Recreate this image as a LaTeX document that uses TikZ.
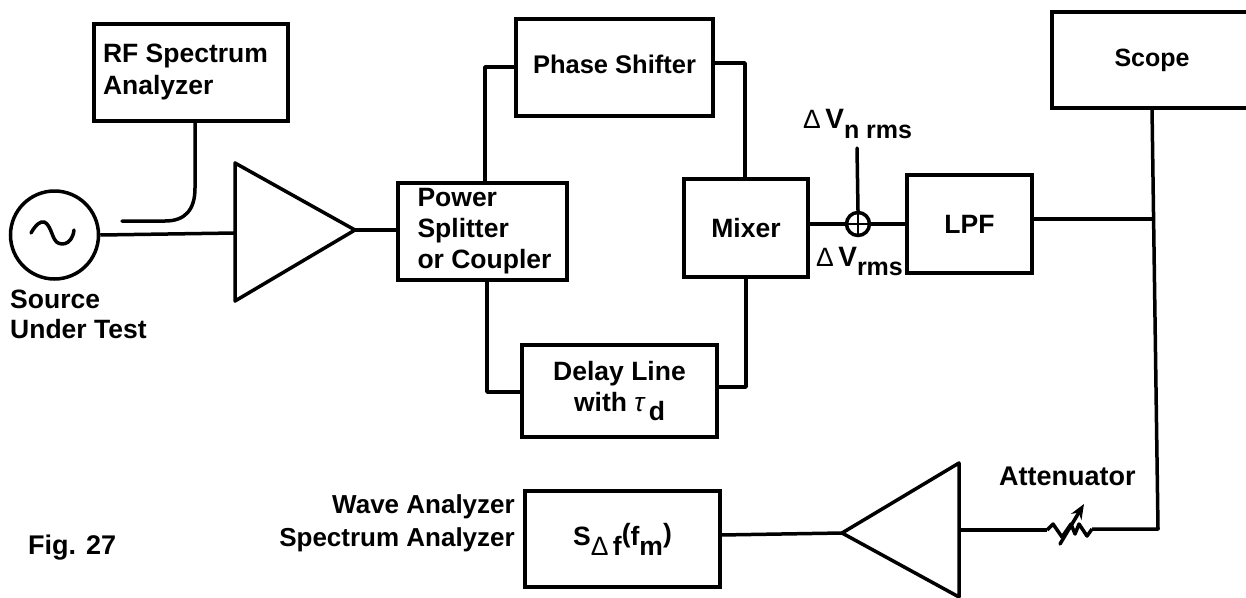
\documentclass[tikz,border=0pt]{standalone}
\usepackage{fontspec}
\setmainfont{Liberation Sans}
\usetikzlibrary{arrows.meta}
\newcommand{\fsz}[2]{\fontsize{#1}{#2}\selectfont\bfseries}
\tikzset{
  bx/.style={draw,line width=3.5pt,align=center,inner sep=0pt,font=\fsz{26.5}{31}},
  lbl/.style={inner sep=0pt,font=\fsz{26.5}{31}},
  wire/.style={line width=3.5pt,line join=round}
}
\begin{document}
\begin{tikzpicture}[x=1pt,y=-1pt]
\useasboundingbox (0,0) rectangle (1246,597);
% boxes
\node[bx,minimum width=194pt,minimum height=97pt] (rf) at (191,72.5) {\hspace*{-11pt}\raisebox{-3pt}{\begin{tabular}{@{}l@{}}RF Spectrum\\[1pt]Analyzer\end{tabular}}};
\node[bx,minimum width=169pt,minimum height=97pt] (split) at (482.5,231.5) {\hspace*{4pt}\raisebox{-2pt}{\begin{tabular}{@{}l@{}}Power\\Splitter\\or Coupler\end{tabular}}};
\node[bx,font=\fsz{25.5}{30},minimum width=197pt,minimum height=97pt] (phase) at (614.5,67.5) {\raisebox{6pt}{Phase Shifter}};
\node[bx,minimum width=124pt,minimum height=98pt] (mixer) at (746,228) {\raisebox{1pt}{Mixer}};
\node[bx,minimum width=125pt,minimum height=98pt] (lpf) at (969.5,224) {\raisebox{-2pt}{LPF}};
\node[bx,minimum width=195pt,minimum height=92pt] (delay) at (619.5,391) {Delay Line\\with {\mdseries\itshape τ}\,\raisebox{-9pt}{d}};
\node[bx,font=\fsz{25}{30},minimum width=200pt,minimum height=96pt] (scope) at (1152,60) {Scope};
\node[bx,minimum width=195pt,minimum height=96pt] (sdf) at (622.5,539) {\raisebox{6pt}{S\raisebox{-10pt}{{\mdseries Δ}\,f}\raisebox{3pt}{(}f\raisebox{-10pt}{m}\raisebox{3pt}{)}}};
% source
\node[draw,line width=3.5pt,circle,minimum size=88pt,inner sep=0pt] (src) at (54.5,235) {};
\draw[line width=3.5pt,line cap=round] (31,233) .. controls (36,224) and (41,221) .. (44,222) .. controls (50,224) and (52,236) .. (55,240) .. controls (58,246) and (72,247) .. (74,230);
\node[inner sep=0pt,align=left,anchor=base west,font=\fsz{26.5}{30}] (srclbl) at (10,338) {Source\\Under Test};
% amplifiers
\coordinate (a1l) at (235,233);
\coordinate (a1t) at (235,163);
\coordinate (a1b) at (235,301);
\coordinate (a1r) at (355,230);
\draw[wire] (a1t) -- (a1r) -- (a1b) -- cycle;
\coordinate (a2l) at (842,533);
\coordinate (a2t) at (959,463);
\coordinate (a2b) at (959,597);
\coordinate (a2r) at (959,530);
\draw[wire] (a2t) -- (a2l) -- (a2b) -- cycle;
% summing junction
\node[draw,line width=3.5pt,circle,minimum size=23pt,inner sep=0pt] (sum) at (858,224) {};
\draw[line width=1.6pt] (sum.north) -- (sum.south) (sum.west) -- (sum.east);
% coordinates
\coordinate (tapend) at (122,221);
\coordinate (nfree) at (857,148);
\coordinate (j) at (1153,219);
\coordinate (att1) at (1047,530);
\coordinate (att2) at (1092,529);
\coordinate (corner) at (1158,529);
% wires
\draw[wire] (src.east) -- (a1l);
\draw[wire,line cap=round] (tapend) -- (165,221) .. controls (185,221) and (195,210) .. (195,188) -- (rf.south -| 195,0);
\draw[wire] (a1r) -- (split.west |- a1r);
\draw[wire] (485,183) -- (485,67) -- (516,67);
\draw[wire] (487,280) -- (487,392) -- (522,392);
\draw[wire] (713,63) -- (745,63) -- (745,179);
\draw[wire] (717,387) -- (746,387) -- (746,277);
\draw[wire] (808,224) -- (sum.west);
\draw[wire] (sum.east) -- (907,224);
\draw[wire,line cap=round] (nfree) -- (sum.north);
\draw[wire] (1032,219) -- (j);
\draw[wire] (1152,108) -- (corner) -- (att2);
\draw[wire] (att1) -- (a2r);
\draw[wire] (720,535) -- (a2l);
% attenuator
\draw[wire] (att1) -- (1053,524) -- (1062,537) -- (1071,524) -- (1075,534) -- (1079,524) -- (1087,536) -- (att2);
\draw[line width=3.5pt,line cap=round,-{Stealth[length=15pt,width=12pt]}] (1060,544) -- (1084,504);
% labels
\node[lbl,font=\fsz{27}{31},anchor=base west] (atl) at (999,485) {Attenuator};
\node[lbl,font=\fsz{26}{33},align=right,anchor=base east] (wave) at (515,546) {Wave Analyzer\\Spectrum Analyzer};
\node[lbl,font=\fsz{27}{31},anchor=base west] (fig) at (28,554) {Fig. 27};
\node[lbl,anchor=base west] (dvn) at (803,128) {{\mdseries Δ}\,\fontsize{28}{28}\selectfont V\raisebox{-10pt}{\fontsize{25}{25}\selectfont n rms}};
\node[lbl,anchor=base west] (dvr) at (816,266) {{\mdseries Δ}\,\fontsize{28}{28}\selectfont V\raisebox{-9pt}{\fontsize{25}{25}\selectfont rms}};
\end{tikzpicture}
\end{document}
